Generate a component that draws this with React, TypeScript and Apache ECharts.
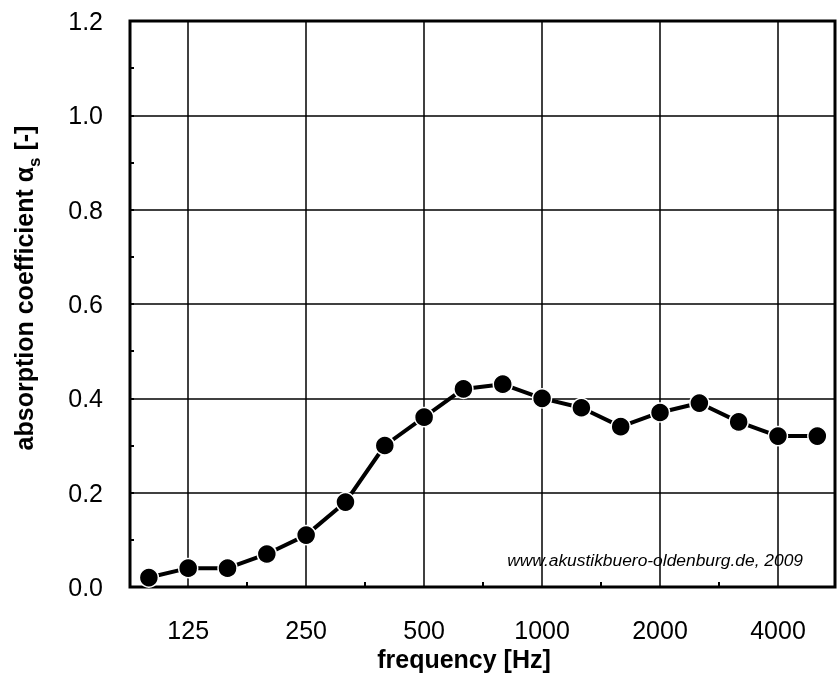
import React, { useEffect, useRef } from 'react';
import * as echarts from 'echarts';

const frequencies = ['100', '125', '160', '200', '250', '315', '400', '500', '630', '800', '1000', '1250', '1600', '2000', '2500', '3150', '4000', '5000'];
const absorption = [0.02, 0.04, 0.04, 0.07, 0.11, 0.18, 0.30, 0.36, 0.42, 0.43, 0.40, 0.38, 0.34, 0.37, 0.39, 0.35, 0.32, 0.32];
const octaveLabels = ['125', '250', '500', '1000', '2000', '4000'];
const yMin = 0;
const yMax = 1.2;
const yStep = 0.2;
const yMinorStep = 0.1;
const xTitle = 'frequency [Hz]';
const credit = 'www.akustikbuero-oldenburg.de, 2009';

const FONT = '"Liberation Sans", Arial, Helvetica, sans-serif';

export default function App() {
  const ref = useRef<HTMLDivElement>(null);
  useEffect(() => {
    if (!ref.current) return;
    const chart = echarts.init(ref.current, undefined, { renderer: 'svg' });
    const octaveIdx = octaveLabels.map((l) => frequencies.indexOf(l));
    const midIdx: number[] = [];
    for (let k = 0; k < octaveIdx.length - 1; k++) midIdx.push((octaveIdx[k] + octaveIdx[k + 1]) / 2);
    const data = frequencies.map((_, i) => [i, absorption[i]]);

    chart.setOption({
      animation: false,
      grid: {
        left: 130,
        right: 2,
        top: 21,
        bottom: 98,
        show: true,
        borderColor: '#000',
        borderWidth: 3,
        backgroundColor: 'transparent',
        z: 5,
      },
      xAxis: [
        {
          type: 'value',
          min: -0.48,
          max: 17.45,
          axisLine: { show: false, onZero: false },
          axisTick: { show: false, customValues: octaveIdx },
          axisLabel: {
            customValues: octaveIdx,
            formatter: (v: number) => frequencies[Math.round(v)] ?? '',
            fontSize: 25,
            color: '#000',
            fontFamily: FONT,
            margin: 30,
          },
          splitLine: { show: true, lineStyle: { color: '#000', width: 1.5 } },
        },
        {
          type: 'value',
          min: -0.48,
          max: 17.45,
          position: 'bottom',
          axisLine: { show: false, onZero: false },
          axisLabel: { show: false },
          axisTick: { show: true, inside: true, length: 5, customValues: midIdx, lineStyle: { color: '#000', width: 2 } },
          splitLine: { show: false },
        },
      ],
      yAxis: [
        {
          type: 'value',
          min: yMin,
          max: yMax,
          interval: yStep,
          axisLine: { show: false, onZero: false },
          axisTick: { show: false },
          axisLabel: {
            formatter: (v: number) => v.toFixed(1),
            fontSize: 25,
            color: '#000',
            fontFamily: FONT,
            margin: 27,
          },
          splitLine: { show: true, lineStyle: { color: '#000', width: 1.5 } },
        },
        {
          type: 'value',
          min: yMin,
          max: yMax,
          interval: yMinorStep,
          position: 'left',
          axisLine: { show: false, onZero: false },
          axisLabel: { show: false },
          axisTick: { show: true, inside: true, length: 4, lineStyle: { color: '#000', width: 2 } },
          splitLine: { show: false },
        },
      ],
      graphic: [
        {
          type: 'text',
          x: 464,
          y: 659,
          style: {
            text: xTitle,
            fontSize: 25,
            fontWeight: 'bold',
            fontFamily: FONT,
            fill: '#000',
            align: 'center',
            verticalAlign: 'middle',
          },
        },
        {
          type: 'text',
          x: 24,
          y: 288,
          rotation: Math.PI / 2,
          style: {
            text: '{b|absorption coefficient α}{s|s}{b| [-]}',
            align: 'center',
            verticalAlign: 'middle',
            fontFamily: FONT,
            fill: '#000',
            rich: {
              b: { fontSize: 25, fontWeight: 'bold', fontFamily: FONT, fill: '#000', lineHeight: 40 },
              s: { fontSize: 17, fontWeight: 'bold', fontFamily: FONT, fill: '#000', lineHeight: 18, padding: [20, 0, 0, 0] },
            },
          },
        },
        {
          type: 'text',
          x: 803,
          y: 560,
          z: 10,
          style: {
            text: credit,
            fontSize: 17.4,
            fontStyle: 'italic',
            fontFamily: FONT,
            fill: '#000',
            align: 'right',
            verticalAlign: 'middle',
          },
        },
      ],
      series: [
        {
          type: 'line',
          data,
          symbol: 'circle',
          symbolSize: 19,
          itemStyle: { color: '#000', borderColor: '#fff', borderWidth: 1.5 },
          lineStyle: { color: '#000', width: 4 },
          z: 6,
        },
      ],
    });
    return () => chart.dispose();
  }, []);
  return <div ref={ref} style={{ position: 'fixed', left: 0, top: 0, width: 837, height: 685 }} />;
}
